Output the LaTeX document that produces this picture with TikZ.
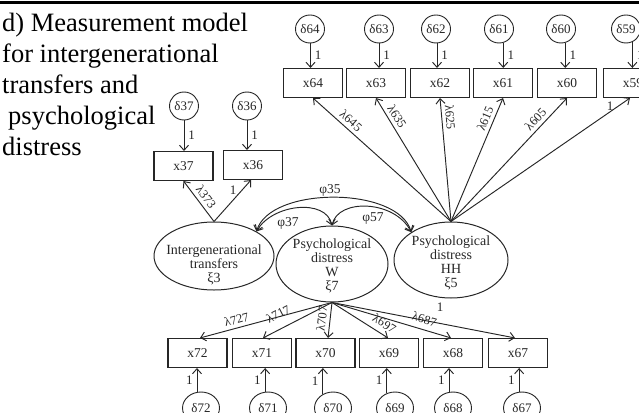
\documentclass[tikz,border=0pt]{standalone}
\usepackage{fontspec}
\setmainfont{Liberation Serif}
\usetikzlibrary{arrows.meta,shapes.geometric}
\definecolor{ink}{HTML}{262626}
\begin{document}
\begin{tikzpicture}[x=1pt,y=-1pt,
  every node/.style={inner sep=0pt,text=ink},
  obs/.style={draw=ink,line width=1.1pt,minimum width=59pt,minimum height=29pt,font=\fontsize{13.5}{14}\selectfont},
  err/.style={draw=ink,line width=0.9pt,ellipse,minimum width=29pt,minimum height=28pt,font=\fontsize{13}{14}\selectfont},
  errb/.style={err,minimum width=37pt,minimum height=32pt},
  lat/.style={draw=ink,line width=1pt,ellipse},
  lattext/.style={align=center,font=\fontsize{14}{14}\selectfont},
  arr/.style={draw=ink,line width=0.95pt,-{Straight Barb[length=5pt,width=9pt]}},
  cov/.style={draw=ink,line width=0.95pt,{Straight Barb[length=5pt,width=9pt]}-{Straight Barb[length=5pt,width=9pt]}},
  coef/.style={font=\fontsize{12.5}{13}\selectfont,sloped,above=3.5pt},
  unit/.style={font=\fontsize{13}{13}\selectfont},
  phi/.style={font=\fontsize{13.5}{14}\selectfont},
  title/.style={anchor=base west,font=\fontsize{26.5}{31}\selectfont,text=black},
]
\clip (0,0) rectangle (639,412);

% rule across the top
\draw[line width=3.5pt,black] (0,2.5) -- (639,2.5);

% heading
\node[title] (t1) at (2,32) {d) Measurement model};
\node[title] (t2) at (2,63) {for intergenerational};
\node[title] (t3) at (2,93) {transfers and};
\node[title] (t4) at (8,124) {psychological};
\node[title] (t5) at (2,155) {distress};

% latent variables
\node[lat,minimum width=120pt,minimum height=68pt] (xi3) at (214,256) {};
\node[lattext] (xi3t) at (214,265) {Intergenerational\\transfers\\ξ3};
\node[lat,minimum width=112pt,minimum height=76pt] (w) at (332,264) {};
\node[lattext] (wt) at (332,266) {Psychological\\distress\\W\\ξ7};
\node[lat,minimum width=114pt,minimum height=76pt] (hh) at (451,260) {};
\node[lattext] (hht) at (451,263) {Psychological\\distress\\HH\\ξ5};

% indicators of HH with their errors
\foreach \n/\x in {64/313,63/376,62/440,61/503,60/567,59/633}
  \node[obs] (x\n) at (\x,83) {x\n};
\foreach \n/\x in {64/310,63/379,62/436,61/499,60/561,59/626}
  \node[err] (d\n) at (\x,29) {δ\n};
\foreach \n/\a in {64/-88,63/-90,62/-86,61/-73.5,60/-73.5,59/-64.8}
  \draw[arr] (d\n.\a) -- node[unit,right=4pt,pos=0.5] (u\n) {1} (d\n.\a |- x\n.north);

\foreach \n/\p/\l in {64/0.765/λ645,63/0.816/λ635,62/0.839/λ625,61/0.805/λ615,60/0.781/λ605}
  \draw[arr] (hh.north) -- node[coef,pos=\p] (c\n) {\l} (x\n.south);
\draw[arr] (hh.north) -- ([xshift=-3pt]x59.south);
\node[unit] (c59) at (610,106) {1};

% indicators of intergenerational transfers
\node[obs] (x37) at (183.5,166) {x37};
\node[obs] (x36) at (253,165) {x36};
\node[err] (d37) at (184,106) {δ37};
\node[err] (d36) at (247,106) {δ36};
\draw[arr] (d37.south) -- node[unit,right=4pt,pos=0.5] (u37) {1} (d37.south |- x37.north);
\draw[arr] (d36.south) -- node[unit,right=4pt,pos=0.5] (u36) {1} (d36.south |- x36.north);
\draw[arr] (xi3.north) -- node[coef,pos=0.476] (c37) {λ373} (x37.south);
\draw[arr] (xi3.north) -- ([xshift=-2pt]x36.south);
\node[unit] (c36) at (233,190) {1};

% indicators of W with their errors
\foreach \n/\x in {72/197.5,71/262,70/325.5,69/389,68/453,67/518}
  \node[obs] (x\n) at (\x,353) {x\n};
\foreach \n/\x in {72/201,71/268,70/333,69/395,68/453,67/522}
  \node[errb] (d\n) at (\x,408) {δ\n};
\foreach \n/\a in {72/104.4,71/100.8,70/126.6,69/119,68/104.4,67/100.8}
  \draw[arr] (d\n.\a) -- node[unit,left=4pt,pos=0.5] (u\n) {1} (d\n.\a |- x\n.south);

\draw[arr] (w.south) -- node[coef,pos=0.707] (c72) {λ727} ([xshift=2.5pt]x72.north);
\draw[arr] (w.south) -- node[coef,pos=0.686,above=6pt] (c71) {λ717} ([xshift=1pt]x71.north);
\draw[arr] (w.south) -- node[coef,pos=0.478] (c70) {λ707} ([xshift=2.5pt]x70.north);
\draw[arr] (w.south) -- node[coef,pos=0.838,above=2pt] (c69) {λ697} ([xshift=-1pt]x69.north);
\draw[arr] (w.south) -- node[coef,pos=0.752,above=2pt] (c68) {λ687} ([xshift=-2pt]x68.north);
\draw[arr] (w.south) -- ([xshift=-3pt]x67.north);
\node[unit] (c67) at (440,307) {1};

% covariances between the latent variables
\draw[cov] (xi3.30) .. controls (270,186) and (398,186) .. (hh.145);
\draw[cov] (xi3.30) .. controls (272,204) and (326,198) .. (w.north);
\draw[cov] (w.north) .. controls (338,198) and (395,200) .. (hh.145);
\node[phi] (f35) at (330,190) {φ35};
\node[phi] (f37) at (288,223) {φ37};
\node[phi] (f57) at (373,219) {φ57};
\end{tikzpicture}
\end{document}
